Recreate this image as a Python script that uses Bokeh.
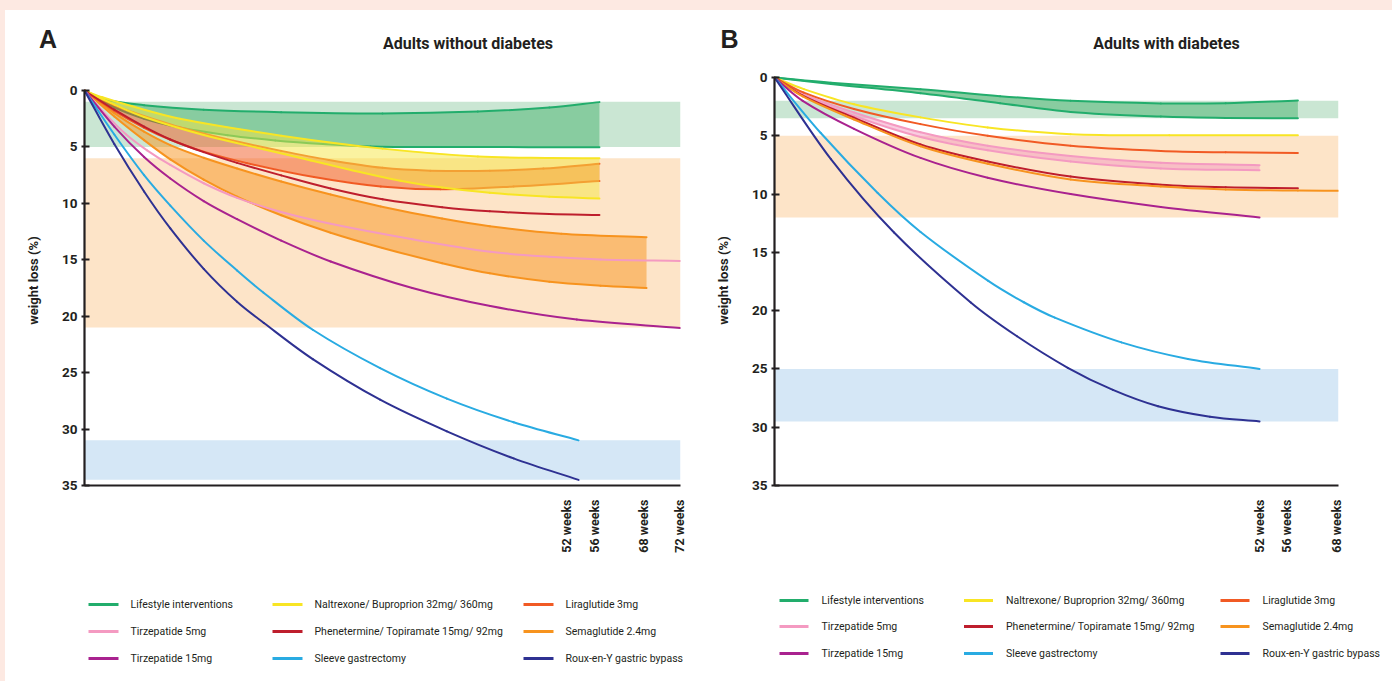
import math
from bokeh.plotting import figure
from bokeh.models import Range1d, FixedTicker, Spacer
from bokeh.layouts import row, column
from bokeh.embed import file_html
from bokeh.resources import INLINE
from bokeh.core.properties import value

COND = "Roboto"
SANS = "Liberation Sans"
INK = "#231f20"
PINK_BG = "#fde9e2"

# ---------------- data : panel A (adults without diabetes) ----------------
# x is the schematic time position along the axis (0 = start, 100 = axis end)
A_tick_pos = [80.9, 85.6, 93.8, 99.8]
A_tick_lab = ["52 weeks", "56 weeks", "68 weeks", "72 weeks"]

A_band_green = [1.0, 5.0]
A_band_peach = [6.0, 21.0]
A_band_blue = [31.0, 34.5]

A_life_up_x = [0, 3, 10, 20, 33, 50, 66, 78, 86.4]
A_life_up_y = [0, 0.75, 1.3, 1.7, 1.92, 2.03, 1.87, 1.5, 1.03]
A_life_lo_x = [0, 5, 10, 16, 24, 32, 40, 48, 60, 86.4]
A_life_lo_y = [0, 1.5, 2.5, 3.28, 3.96, 4.42, 4.74, 4.96, 5.01, 5.02]

A_nal_up_x = [0, 3, 8, 16, 33, 50, 66, 78, 86.4]
A_nal_up_y = [0, 0.6, 1.4, 2.5, 4.0, 5.15, 5.85, 5.98, 6.0]
A_nal_lo_x = [0, 5, 10, 20, 30, 38, 44, 53, 60, 68, 78, 86.4]
A_nal_lo_y = [0, 1.25, 2.35, 3.95, 5.2, 6.2, 6.95, 8.0, 8.6, 9.07, 9.42, 9.56]

A_lira_up_x = [0, 5, 8, 16, 25, 33, 41, 50, 58, 68, 77, 86.4]
A_lira_up_y = [0, 1.3, 1.9, 3.25, 4.45, 5.35, 6.15, 6.85, 7.1, 7.12, 6.92, 6.49]
A_lira_lo_x = [0, 5, 10, 14.4, 20, 27.3, 38.5, 49.7, 59.7, 72, 86.4]
A_lira_lo_y = [0, 1.8, 3.3, 4.36, 5.42, 6.44, 7.67, 8.51, 8.76, 8.51, 8.02]

A_phen_x = [0, 5, 10, 14.4, 20, 25.6, 33, 41.3, 50, 60, 68, 78, 86.4]
A_phen_y = [0, 1.7, 3.2, 4.34, 5.46, 6.41, 7.52, 8.68, 9.64, 10.34, 10.7, 10.95, 11.03]

A_sema_up_x = [0, 5, 10, 14.4, 20, 25.6, 33, 41.3, 49.7, 60, 68, 80, 94.3]
A_sema_up_y = [0, 2.0, 3.65, 4.84, 5.96, 6.91, 8.06, 9.22, 10.27, 11.35, 12.03, 12.69, 13.0]
A_sema_lo_x = [0, 5, 10, 14.4, 20, 25.6, 33, 41.3, 50, 60, 68, 78, 86.6, 94.3]
A_sema_lo_y = [0, 2.3, 4.4, 6.1, 7.9, 9.4, 11.05, 12.6, 13.95, 15.3, 16.2, 16.95, 17.3, 17.5]

A_tz5_x = [0, 3, 7, 10.5, 14.4, 20, 25.6, 33, 41.3, 55, 68.1, 78, 86.6, 100]
A_tz5_y = [0, 1.8, 3.9, 5.3, 6.6, 8.22, 9.51, 10.77, 11.81, 13.18, 14.29, 14.74, 14.97, 15.1]

A_tz15_x = [0, 5, 10, 14.4, 20, 25.6, 33, 41.3, 55, 68.1, 82.6, 100]
A_tz15_y = [0, 3.2, 5.9, 7.8, 9.8, 11.4, 13.3, 15.15, 17.5, 19.1, 20.3, 21.05]

A_slv_x = [0, 5, 10, 14.4, 20, 25.6, 30, 38.3, 49.6, 60.8, 72, 82.9]
A_slv_y = [0, 3.9, 7.5, 10.2, 13.3, 15.95, 17.9, 21.2, 24.6, 27.3, 29.4, 31.0]

A_ryg_x = [0, 5, 10, 14.4, 20, 25.6, 30.1, 38.3, 49.6, 60.8, 72, 82.9]
A_ryg_y = [0, 4.74, 8.95, 12.22, 15.8, 18.72, 20.6, 23.8, 27.4, 30.2, 32.6, 34.5]

# ---------------- data : panel B (adults with diabetes) ----------------
B_tick_pos = [86.0, 90.7, 99.7]
B_tick_lab = ["52 weeks", "56 weeks", "68 weeks"]

B_band_green = [2.0, 3.5]
B_band_peach = [5.0, 12.0]
B_band_blue = [25.0, 29.5]

B_life_up_x = [0, 10, 25.9, 40, 52.5, 68.5, 80, 92.8]
B_life_up_y = [0, 0.45, 1.0, 1.6, 2.0, 2.22, 2.2, 1.97]
B_life_lo_x = [0, 10, 25.9, 40, 52.5, 68.5, 80, 92.8]
B_life_lo_y = [0, 0.55, 1.35, 2.2, 2.95, 3.35, 3.47, 3.5]

B_nal_x = [0, 5.2, 14.1, 25.9, 37.8, 52.5, 70, 92.8]
B_nal_y = [0, 1.0, 2.3, 3.42, 4.28, 4.86, 4.95, 4.95]

B_lira_x = [0, 5.2, 14.1, 25.9, 37.8, 52.5, 68.5, 80, 92.8]
B_lira_y = [0, 1.3, 2.7, 4.0, 5.0, 5.85, 6.3, 6.42, 6.48]

B_tz5_up_x = [0, 5, 14.1, 25.9, 37.8, 52.5, 68.5, 86.0]
B_tz5_up_y = [0, 1.4, 3.0, 4.7, 5.85, 6.74, 7.32, 7.52]
B_tz5_lo_x = [0, 5, 14.1, 25.9, 37.8, 52.5, 68.5, 86.0]
B_tz5_lo_y = [0, 1.5, 3.3, 5.1, 6.25, 7.2, 7.8, 7.95]

B_phen_x = [0, 5, 14.1, 25.9, 37.8, 52.5, 68.5, 80, 92.8]
B_phen_y = [0, 1.55, 3.45, 5.75, 7.2, 8.5, 9.2, 9.42, 9.49]

B_sema_x = [0, 5, 14.1, 25.9, 37.8, 52.5, 68.5, 80, 92.8, 100]
B_sema_y = [0, 1.62, 3.6, 5.9, 7.4, 8.75, 9.35, 9.6, 9.7, 9.72]

B_tz15_x = [0, 5, 14.1, 25.9, 37.8, 52.5, 68.5, 86.0]
B_tz15_y = [0, 2.0, 4.4, 6.9, 8.6, 10.0, 11.1, 12.0]

B_slv_x = [0, 8.2, 18.3, 25.9, 37.9, 44.2, 49.7, 61.5, 73.3, 86.0]
B_slv_y = [0, 4.76, 9.91, 13.25, 17.45, 19.28, 20.6, 22.72, 24.14, 25.0]

B_ryg_x = [0, 10, 21.2, 34.8, 43, 52, 60, 68, 77.2, 86.0]
B_ryg_y = [0, 7.0, 13.3, 19.3, 22.2, 24.9, 26.8, 28.2, 29.1, 29.5]

# ---------------- titles & legend ----------------
panel_letters = ["A", "B"]
panel_titles = ["Adults without diabetes", "Adults with diabetes"]
y_axis_title = "weight loss (%)"
y_ticks = [0, 5, 10, 15, 20, 25, 30, 35]

legend_labels = ["Lifestyle interventions", "Naltrexone/ Buproprion 32mg/ 360mg", "Liraglutide 3mg",
                 "Tirzepatide 5mg", "Phenetermine/ Topiramate 15mg/ 92mg", "Semaglutide 2.4mg",
                 "Tirzepatide 15mg", "Sleeve gastrectomy", "Roux-en-Y gastric bypass"]
legend_keys = ["life", "nal", "lira", "tz5", "phen", "sema", "tz15", "slv", "ryg"]

COL = {"life": "#22ad6c", "nal": "#f8e524", "lira": "#f15a24", "phen": "#be1e2d",
       "sema": "#f7931e", "tz5": "#f49ac1", "tz15": "#a9228f", "slv": "#29abe2", "ryg": "#2e3192"}
BAND = {"green": "#cae6d3", "peach": "#fde4c8", "blue": "#d5e7f6"}

# ---------------- page geometry (pixels) ----------------
TOP_STRIP, LEFT_STRIP = 10, 5
W_A, W_B = 695, 692
H_HEAD, H_PLOT, H_LEG = 57, 518, 96
FRAME_TOP, FRAME_BOT = 8, 100          # borders of both plot canvases


def clean(p):
    p.xgrid.visible = False
    p.ygrid.visible = False
    p.outline_line_color = None
    p.background_fill_color = "white"
    p.border_fill_color = "white"


def base_panel(width, bl, br, top_val, tick_pos, tick_lab):
    p = figure(width=width, height=H_PLOT, x_range=Range1d(0, 100), y_range=Range1d(35, top_val),
               output_backend="svg", toolbar_location=None,
               min_border_left=bl, min_border_right=br,
               min_border_top=FRAME_TOP, min_border_bottom=FRAME_BOT)
    clean(p)
    for ax in (p.xaxis[0], p.yaxis[0]):
        ax.axis_line_color = INK
        ax.axis_line_width = 2.2
        ax.major_tick_line_color = INK
        ax.major_tick_line_width = 2
        ax.minor_tick_line_color = None
        ax.major_label_text_color = INK
        ax.major_label_text_font = COND
        ax.major_label_text_font_style = "bold"
    p.yaxis.bounds = (0, 35)
    p.yaxis.ticker = FixedTicker(ticks=y_ticks)
    p.yaxis.major_tick_in = 5
    p.yaxis.major_tick_out = 3
    p.yaxis.major_label_standoff = 4
    p.yaxis.major_label_text_font_size = "13.5px"
    p.yaxis.axis_label = y_axis_title
    p.yaxis.axis_label_text_font = COND
    p.yaxis.axis_label_text_font_style = "bold"
    p.yaxis.axis_label_text_font_size = "13px"
    p.yaxis.axis_label_text_color = INK
    p.yaxis.axis_label_standoff = 18
    p.xaxis.ticker = FixedTicker(ticks=tick_pos)
    p.xaxis.major_label_overrides = {t: l for t, l in zip(tick_pos, tick_lab)}
    p.xaxis.major_tick_in = 0
    p.xaxis.major_tick_out = 0
    p.xaxis.major_label_orientation = math.pi / 2
    p.xaxis.major_label_standoff = 14
    p.xaxis.major_label_text_font_size = "12.5px"
    return p


def bands(p, g, pe, b):
    for rng, c in ((g, BAND["green"]), (pe, BAND["peach"]), (b, BAND["blue"])):
        p.quad(left=[0], right=[100], top=[rng[0]], bottom=[rng[1]], fill_color=c, line_color=None)


def band_fill(p, ux, uy, lx, ly, color, alpha):
    p.patch(x=ux + lx[::-1], y=uy + ly[::-1], fill_color=color, fill_alpha=alpha, line_color=None)


def curve(p, x, y, key, w=2.0):
    # smooth Hermite curve through the read points, drawn with Bokeh's bezier glyph
    n = len(x)
    m = []
    for i in range(n):
        if i == 0:
            m.append((y[1] - y[0]) / (x[1] - x[0]))
        elif i == n - 1:
            m.append((y[-1] - y[-2]) / (x[-1] - x[-2]))
        else:
            m.append((y[i + 1] - y[i - 1]) / (x[i + 1] - x[i - 1]))
    x0, y0, x1, y1, cx0, cy0, cx1, cy1 = [], [], [], [], [], [], [], []
    for i in range(n - 1):
        h = x[i + 1] - x[i]
        x0.append(x[i]); y0.append(y[i]); x1.append(x[i + 1]); y1.append(y[i + 1])
        cx0.append(x[i] + h / 3); cy0.append(y[i] + m[i] * h / 3)
        cx1.append(x[i + 1] - h / 3); cy1.append(y[i + 1] - m[i + 1] * h / 3)
    p.bezier(x0=x0, y0=y0, x1=x1, y1=y1, cx0=cx0, cy0=cy0, cx1=cx1, cy1=cy1,
             line_color=COL[key], line_width=w, line_cap="round")


# ---------------- panel A ----------------
# A: 0 at page y 90, 35 at page y 485 ; frame top at page y 75
pa = base_panel(W_A, 79, 20, -15 / (395 / 35), A_tick_pos, A_tick_lab)
bands(pa, A_band_green, A_band_peach, A_band_blue)
band_fill(pa, A_life_up_x, A_life_up_y, A_life_lo_x, A_life_lo_y, "#88cca0", 1.0)
curve(pa, A_life_up_x, A_life_up_y, "life")
curve(pa, A_life_lo_x, A_life_lo_y, "life")
band_fill(pa, A_sema_up_x, A_sema_up_y, A_sema_lo_x, A_sema_lo_y, COL["sema"], 0.5)
curve(pa, A_sema_up_x, A_sema_up_y, "sema")
curve(pa, A_sema_lo_x, A_sema_lo_y, "sema")
band_fill(pa, A_lira_up_x, A_lira_up_y, A_lira_lo_x, A_lira_lo_y, COL["lira"], 0.5)
curve(pa, A_lira_up_x, A_lira_up_y, "lira")
curve(pa, A_lira_lo_x, A_lira_lo_y, "lira")
band_fill(pa, A_nal_up_x, A_nal_up_y, A_nal_lo_x, A_nal_lo_y, "#f5e642", 0.5)
curve(pa, A_nal_up_x, A_nal_up_y, "nal")
curve(pa, A_nal_lo_x, A_nal_lo_y, "nal")
curve(pa, A_phen_x, A_phen_y, "phen")
curve(pa, A_tz5_x, A_tz5_y, "tz5")
curve(pa, A_tz15_x, A_tz15_y, "tz15")
curve(pa, A_slv_x, A_slv_y, "slv")
curve(pa, A_ryg_x, A_ryg_y, "ryg")

# ---------------- panel B ----------------
# B: 0 at page y 77, 35 at page y 485
pb = base_panel(W_B, 74, 54, -2 / (408 / 35), B_tick_pos, B_tick_lab)
bands(pb, B_band_green, B_band_peach, B_band_blue)
band_fill(pb, B_life_up_x, B_life_up_y, B_life_lo_x, B_life_lo_y, "#88cca0", 1.0)
curve(pb, B_life_up_x, B_life_up_y, "life")
curve(pb, B_life_lo_x, B_life_lo_y, "life")
band_fill(pb, B_tz5_up_x, B_tz5_up_y, B_tz5_lo_x, B_tz5_lo_y, COL["tz5"], 0.5)
curve(pb, B_tz5_up_x, B_tz5_up_y, "tz5")
curve(pb, B_tz5_lo_x, B_tz5_lo_y, "tz5")
curve(pb, B_nal_x, B_nal_y, "nal")
curve(pb, B_lira_x, B_lira_y, "lira")
curve(pb, B_phen_x, B_phen_y, "phen")
curve(pb, B_sema_x, B_sema_y, "sema")
curve(pb, B_tz15_x, B_tz15_y, "tz15")
curve(pb, B_slv_x, B_slv_y, "slv")
curve(pb, B_ryg_x, B_ryg_y, "ryg")


# ---------------- headers (page-pixel coordinates) ----------------
def header(x_lo, width, letter_x, title_x, idx):
    p = figure(width=width, height=H_HEAD, x_range=Range1d(x_lo, x_lo + width),
               y_range=Range1d(TOP_STRIP + H_HEAD, TOP_STRIP), output_backend="svg",
               toolbar_location=None, min_border=0, x_axis_location=None, y_axis_location=None)
    clean(p)
    p.text(x=[letter_x], y=[38.5], text=[panel_letters[idx]], text_font=value(SANS),
           text_font_style="bold", text_font_size="25px", text_color=INK,
           text_align="center", text_baseline="middle")
    p.text(x=[title_x], y=[43], text=[panel_titles[idx]], text_font=value(COND),
           text_font_style="bold", text_font_size="16px", text_color=INK,
           text_align="center", text_baseline="middle")
    return p


ha = header(LEFT_STRIP, W_A, 47.5, 467.5, 0)
hb = header(LEFT_STRIP + W_A, W_B, 729, 1166, 1)


# ---------------- legends (page-pixel coordinates) ----------------
def legend_panel(x_lo, width, col_x, row_y, sw, gap):
    y_lo = TOP_STRIP + H_HEAD + H_PLOT
    p = figure(width=width, height=H_LEG, x_range=Range1d(x_lo, x_lo + width),
               y_range=Range1d(y_lo + H_LEG, y_lo), output_backend="svg", toolbar_location=None,
               min_border=0, x_axis_location=None, y_axis_location=None)
    clean(p)
    x0, y0, x1, tx, cols = [], [], [], [], []
    for i, key in enumerate(legend_keys):
        c, r = i % 3, i // 3
        x0.append(col_x[c])
        x1.append(col_x[c] + sw)
        tx.append(col_x[c] + sw + gap)
        y0.append(row_y[r])
        cols.append(COL[key])
    p.segment(x0=x0, y0=y0, x1=x1, y1=y0, line_color=cols, line_width=3)
    p.text(x=tx, y=y0, text=legend_labels, text_font=value(COND), text_font_size="10.5px",
           text_color=INK, text_baseline="middle", text_align="left")
    return p


la = legend_panel(LEFT_STRIP, W_A, [88, 272, 523], [604, 631, 658], 30, 12)
lb = legend_panel(LEFT_STRIP + W_A, W_B, [779, 963.5, 1220], [600, 626, 653], 29, 13)

body = column(row(ha, hb), row(pa, pb), row(la, lb))
layout = column(Spacer(width=LEFT_STRIP + W_A + W_B, height=TOP_STRIP,
                       styles={"background-color": PINK_BG}),
                row(Spacer(width=LEFT_STRIP, height=H_HEAD + H_PLOT + H_LEG,
                           styles={"background-color": PINK_BG}), body))
open("out.html", "w").write(file_html(layout, INLINE))
